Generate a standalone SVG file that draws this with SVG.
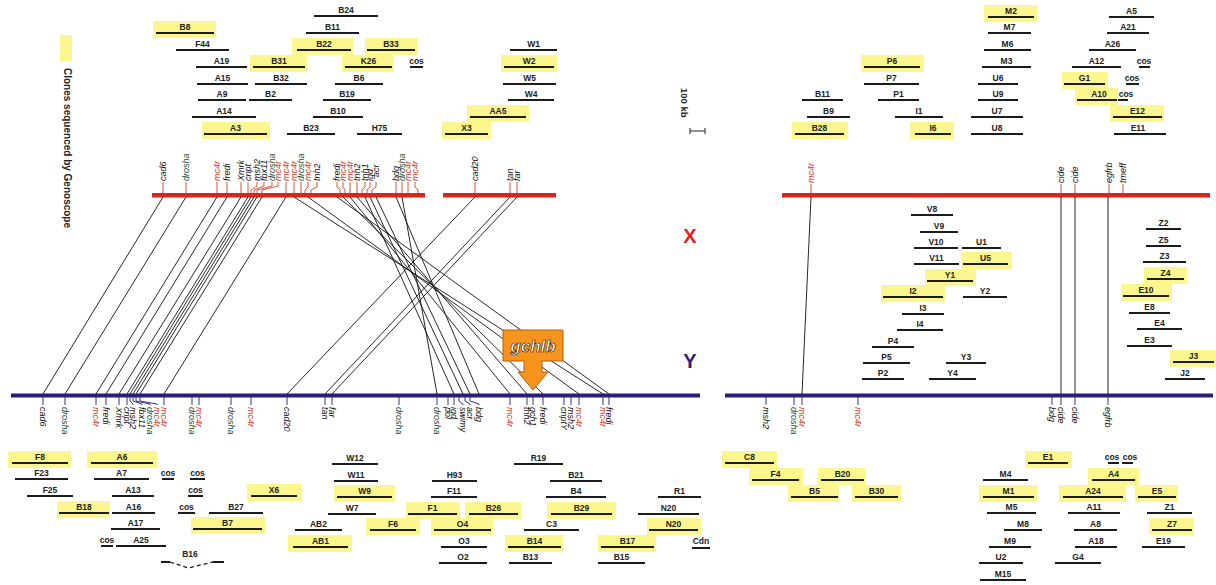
<svg xmlns="http://www.w3.org/2000/svg" width="1216" height="585" viewBox="0 0 1216 585">
<style>
.hl{fill:#fbf78e}
.cl{stroke:#1c1c1c;stroke-width:2}
.lb{font-family:"Liberation Sans",Arial,sans-serif;font-weight:bold;font-size:8.5px;fill:#222;text-anchor:middle}
.g{font-family:"Liberation Sans",Arial,sans-serif;font-style:italic;font-size:9px;fill:#111}
.r{fill:#d5391c}
.gn{fill:#1d4a30}
.tt{stroke:#d9553a;stroke-width:1;fill:none}
.bt{stroke:#34358a;stroke-width:1;fill:none}
.con{stroke:#111;stroke-width:0.9;fill:none}
</style>
<rect width="1216" height="585" fill="#fff"/>

<g id="legend">
<rect class="hl" x="60" y="35" width="12" height="26"/>
<text transform="translate(63.5,68) rotate(90)" style="font-family:'Liberation Sans',Arial,sans-serif;font-weight:bold;font-size:10px;fill:#222">Clones sequenced by Genoscope</text>
</g>

<g id="scalebar">
<text transform="translate(681,88) rotate(90)" style="font-family:'Liberation Sans',Arial,sans-serif;font-weight:bold;font-size:9.5px;fill:#222">100 kb</text>
<path d="M690,131 H705 M690,128 V134 M705,128 V134" stroke="#222" stroke-width="1" fill="none"/>
</g>

<g id="chromX">
<rect x="152" y="193" width="273" height="4.5" fill="#d9261c"/>
<rect x="443" y="193" width="113" height="4.5" fill="#d9261c"/>
<rect x="782" y="193" width="428" height="4.5" fill="#d9261c"/>
<text x="690" y="243" style="font-family:'Liberation Sans',Arial,sans-serif;font-weight:bold;font-size:20px;fill:#d9261c" text-anchor="middle">X</text>
</g>
<g id="chromY">
<rect x="11" y="393.5" width="689" height="4" fill="#2b1e7a"/>
<rect x="725" y="393.5" width="488" height="4" fill="#2b1e7a"/>
<text x="690" y="368" style="font-family:'Liberation Sans',Arial,sans-serif;font-weight:bold;font-size:20px;fill:#2b1e7a" text-anchor="middle">Y</text>
</g>

<g id="connectors">
<line class="con" x1="163" y1="197" x2="43" y2="394"/>
<line class="con" x1="186" y1="197" x2="65" y2="394"/>
<line class="con" x1="217" y1="197" x2="96" y2="394"/>
<line class="con" x1="227" y1="197" x2="106" y2="394"/>
<line class="con" x1="241" y1="197" x2="119" y2="394"/>
<line class="con" x1="248" y1="197" x2="127" y2="394"/>
<line class="con" x1="251" y1="197" x2="130" y2="394"/>
<line class="con" x1="254" y1="197" x2="133" y2="394"/>
<line class="con" x1="257" y1="197" x2="136" y2="394"/>
<line class="con" x1="262" y1="197" x2="140" y2="394"/>
<line class="con" x1="286" y1="197" x2="164" y2="394"/>
<line class="con" x1="294" y1="197" x2="603" y2="394"/>
<line class="con" x1="308" y1="197" x2="579" y2="394"/>
<line class="con" x1="337" y1="197" x2="609" y2="394"/>
<line class="con" x1="343" y1="197" x2="543" y2="394"/>
<line class="con" x1="350" y1="197" x2="510" y2="394"/>
<line class="con" x1="357" y1="197" x2="527" y2="394"/>
<line class="con" x1="365" y1="197" x2="454" y2="394"/>
<line class="con" x1="370" y1="197" x2="463" y2="394"/>
<line class="con" x1="376" y1="197" x2="470" y2="394"/>
<line class="con" x1="396" y1="197" x2="479" y2="394"/>
<line class="con" x1="402" y1="197" x2="437" y2="394"/>
<line class="con" x1="475" y1="197" x2="287" y2="394"/>
<line class="con" x1="510" y1="197" x2="325" y2="394"/>
<line class="con" x1="517" y1="197" x2="332" y2="394"/>
<line class="con" x1="811" y1="197" x2="802" y2="394"/>
<line class="con" x1="1061" y1="197" x2="1061" y2="394"/>
<line class="con" x1="1075" y1="197" x2="1075" y2="394"/>
<line class="con" x1="1108" y1="197" x2="1108" y2="394"/>
</g>

<g id="toplabels">
<path class="tt" d="M163,182V193 M186,182V193 M217,182V193 M227,182V193 M241,182V193 M248,182V193 M257,182V186L251,190V193 M264,182V186L254,190V193 M272,182V186L257,190V193 M278,182V186L262,190V193 M286,182V193 M294,182V193 M301,182V193 M308,182V187L305,190V193 M317,182V187L311,190V193 M337,182V187L340,190V193 M343,182V187L345,190V193 M350,182V193 M357,182V193 M365,182V187L362,190V193 M370,182V187L367,190V193 M376,182V187L372,190V193 M396,182V193 M402,182V193 M408,182V193 M415,182V187L418,190V193 M475,182V193 M510,182V193 M517,182V193 M811,184V193 M1061,184V193 M1075,184V193 M1109,184V193 M1123,184V193"/>
<text class="g" transform="translate(166,181) rotate(-90)">cad6</text>
<text class="g gn" transform="translate(189,181) rotate(-90)">drosha</text>
<text class="g r" transform="translate(220,181) rotate(-90)">mc4r</text>
<text class="g" transform="translate(230,181) rotate(-90)">fredi</text>
<text class="g" transform="translate(244,181) rotate(-90)">Xmrk</text>
<text class="g" transform="translate(251,181) rotate(-90)">cript</text>
<text class="g" transform="translate(260,181) rotate(-90)">msh2</text>
<text class="g" transform="translate(267,181) rotate(-90)">fbx11</text>
<text class="g gn" transform="translate(275,181) rotate(-90)">drosha</text>
<text class="g r" transform="translate(281,181) rotate(-90)">mc4r</text>
<text class="g r" transform="translate(289,181) rotate(-90)">mc4r</text>
<text class="g r" transform="translate(297,181) rotate(-90)">mc4r</text>
<text class="g gn" transform="translate(304,181) rotate(-90)">drosha</text>
<text class="g r" transform="translate(311,181) rotate(-90)">mc4r</text>
<text class="g" transform="translate(320,181) rotate(-90)">tnh2</text>
<text class="g" transform="translate(340,181) rotate(-90)">fredi</text>
<text class="g r" transform="translate(346,181) rotate(-90)">mc4r</text>
<text class="g r" transform="translate(353,181) rotate(-90)">mc4r</text>
<text class="g" transform="translate(360,181) rotate(-90)">tnh2</text>
<text class="g" transform="translate(368,181) rotate(-90)">tnh1</text>
<text class="g" transform="translate(373,181) rotate(-90)">igd</text>
<text class="g" transform="translate(379,177) rotate(-90)">acr</text>
<text class="g" transform="translate(399,181) rotate(-90)">bdg</text>
<text class="g gn" transform="translate(405,181) rotate(-90)">drosha</text>
<text class="g r" transform="translate(411,181) rotate(-90)">mc4r</text>
<text class="g r" transform="translate(418,181) rotate(-90)">mc4r</text>
<text class="g" transform="translate(478,181) rotate(-90)">cad20</text>
<text class="g" transform="translate(513,181) rotate(-90)">tan</text>
<text class="g" transform="translate(520,181) rotate(-90)">far</text>
<text class="g r" transform="translate(814,183) rotate(-90)">mc4r</text>
<text class="g" transform="translate(1064,183) rotate(-90)">cide</text>
<text class="g" transform="translate(1078,183) rotate(-90)">cide</text>
<text class="g" transform="translate(1112,183) rotate(-90)">egfrb</text>
<text class="g" transform="translate(1126,183) rotate(-90)">tmeff</text>
</g>

<g id="bottomlabels">
<path class="bt" d="M43,397V405 M65,397V405 M96,397V405 M106,397V405 M119,397V405 M127,397V405 M130,397V401L133,404V405 M133,397V401L142,404V405 M136,397V401L150,404V405 M140,397V401L157,404V405 M164,397V405 M192,397V405 M199,397V405 M231,397V405 M251,397V405 M287,397V405 M325,397V405 M332,397V405 M399,397V405 M437,397V405 M448,397V405 M454,397V405 M459,397V401L463,404V405 M465,397V401L470,404V405 M470,397V401L479,404V405 M510,397V405 M527,397V405 M533,397V405 M543,397V405 M564,397V405 M571,397V405 M579,397V405 M603,397V405 M609,397V405 M766,397V405 M794,397V405 M802,397V405 M858,397V405 M1052,397V405 M1061,397V405 M1075,397V405 M1108,397V405"/>
<text class="g" transform="translate(40,407) rotate(90)">cad6</text>
<text class="g gn" transform="translate(62,407) rotate(90)">drosha</text>
<text class="g r" transform="translate(93,407) rotate(90)">mc4r</text>
<text class="g" transform="translate(103,407) rotate(90)">fredi</text>
<text class="g" transform="translate(116,407) rotate(90)">Xmrk</text>
<text class="g" transform="translate(124,407) rotate(90)">cript</text>
<text class="g" transform="translate(130,407) rotate(90)">msh2</text>
<text class="g" transform="translate(139,407) rotate(90)">fbx11</text>
<text class="g gn" transform="translate(147,407) rotate(90)">drosha</text>
<text class="g r" transform="translate(154,407) rotate(90)">mc4r</text>
<text class="g r" transform="translate(161,407) rotate(90)">mc4r</text>
<text class="g gn" transform="translate(189,407) rotate(90)">drosha</text>
<text class="g r" transform="translate(196,407) rotate(90)">mc4r</text>
<text class="g gn" transform="translate(228,407) rotate(90)">drosha</text>
<text class="g r" transform="translate(248,407) rotate(90)">mc4r</text>
<text class="g" transform="translate(284,407) rotate(90)">cad20</text>
<text class="g" transform="translate(322,407) rotate(90)">tan</text>
<text class="g" transform="translate(329,407) rotate(90)">far</text>
<text class="g gn" transform="translate(396,407) rotate(90)">drosha</text>
<text class="g gn" transform="translate(434,407) rotate(90)">drosha</text>
<text class="g" transform="translate(445,407) rotate(90)">pol</text>
<text class="g" transform="translate(451,407) rotate(90)">igd</text>
<text class="g" transform="translate(460,407) rotate(90)">swimy</text>
<text class="g" transform="translate(467,407) rotate(90)">acr</text>
<text class="g" transform="translate(476,407) rotate(90)">bdg</text>
<text class="g r" transform="translate(507,407) rotate(90)">mc4r</text>
<text class="g" transform="translate(524,407) rotate(90)">tnh2</text>
<text class="g" transform="translate(530,407) rotate(90)">gch1</text>
<text class="g" transform="translate(540,407) rotate(90)">fredi</text>
<text class="g" transform="translate(561,407) rotate(90)">criptY</text>
<text class="g" transform="translate(568,407) rotate(90)">msh2</text>
<text class="g r" transform="translate(576,407) rotate(90)">mc4r</text>
<text class="g r" transform="translate(600,407) rotate(90)">mc4r</text>
<text class="g" transform="translate(606,407) rotate(90)">fredi</text>
<text class="g" transform="translate(763,407) rotate(90)">msh2</text>
<text class="g gn" transform="translate(791,407) rotate(90)">drosha</text>
<text class="g r" transform="translate(799,407) rotate(90)">mc4r</text>
<text class="g r" transform="translate(855,407) rotate(90)">mc4r</text>
<text class="g" transform="translate(1049,407) rotate(90)">bdg</text>
<text class="g" transform="translate(1058,407) rotate(90)">cide</text>
<text class="g" transform="translate(1072,407) rotate(90)">cide</text>
<text class="g" transform="translate(1105,407) rotate(90)">egfrb</text>
</g>

<g id="gchlb">
<path d="M503,330 H563 V361 H542 V372 H548 L533,390 L518,372 H524 V361 H503 Z" fill="#f7941d" stroke="#b35c10" stroke-width="1"/>
<text x="533" y="352" text-anchor="middle" style="font-family:'Liberation Sans',Arial,sans-serif;font-weight:bold;font-style:italic;font-size:17px;fill:#fff;stroke:#3a1a00;stroke-width:0.7">gchlb</text>
</g>

<!-- top-left clones -->
<g id="c-B8"><rect class="hl" x="153" y="21" width="63" height="17"/><line class="cl" x1="156" y1="33" x2="214" y2="33"/><text class="lb" x="185" y="29.5">B8</text></g>
<g id="c-F44"><line class="cl" x1="176" y1="50" x2="229" y2="50"/><text class="lb" x="202.5" y="46.5">F44</text></g>
<g id="c-A19"><line class="cl" x1="196" y1="67" x2="247" y2="67"/><text class="lb" x="221.5" y="63.5">A19</text></g>
<g id="c-B31"><rect class="hl" x="250" y="55" width="57" height="17"/><line class="cl" x1="253" y1="67" x2="305" y2="67"/><text class="lb" x="279" y="63.5">B31</text></g>
<g id="c-A15"><line class="cl" x1="197" y1="84" x2="248" y2="84"/><text class="lb" x="222.5" y="80.5">A15</text></g>
<g id="c-B32"><line class="cl" x1="255" y1="84" x2="307" y2="84"/><text class="lb" x="281" y="80.5">B32</text></g>
<g id="c-A9"><line class="cl" x1="198" y1="100" x2="246" y2="100"/><text class="lb" x="222" y="96.5">A9</text></g>
<g id="c-B2"><line class="cl" x1="249" y1="100" x2="292" y2="100"/><text class="lb" x="270.5" y="96.5">B2</text></g>
<g id="c-A14"><line class="cl" x1="192" y1="117" x2="256" y2="117"/><text class="lb" x="224" y="113.5">A14</text></g>
<g id="c-A3"><rect class="hl" x="202" y="122" width="68" height="17"/><line class="cl" x1="204" y1="134" x2="267" y2="134"/><text class="lb" x="235.5" y="130.5">A3</text></g>
<g id="c-B23"><line class="cl" x1="287" y1="134" x2="335" y2="134"/><text class="lb" x="311" y="130.5">B23</text></g>
<g id="c-B24"><line class="cl" x1="314" y1="16" x2="378" y2="16"/><text class="lb" x="346" y="12.5">B24</text></g>
<g id="c-B11a"><line class="cl" x1="306" y1="33" x2="359" y2="33"/><text class="lb" x="332.5" y="29.5">B11</text></g>
<g id="c-B22"><rect class="hl" x="292" y="38" width="61" height="17"/><line class="cl" x1="297" y1="50" x2="351" y2="50"/><text class="lb" x="324" y="46.5">B22</text></g>
<g id="c-B33"><rect class="hl" x="365" y="38" width="53" height="17"/><line class="cl" x1="367" y1="50" x2="415" y2="50"/><text class="lb" x="391" y="46.5">B33</text></g>
<g id="c-K26"><rect class="hl" x="342" y="55" width="52" height="17"/><line class="cl" x1="345" y1="67" x2="392" y2="67"/><text class="lb" x="368.5" y="63.5">K26</text></g>
<g id="c-cos1"><line class="cl" x1="410" y1="67" x2="423" y2="67"/><text class="lb" x="416.5" y="63.5">cos</text></g>
<g id="c-B6"><line class="cl" x1="335" y1="84" x2="383" y2="84"/><text class="lb" x="359" y="80.5">B6</text></g>
<g id="c-B19"><line class="cl" x1="323" y1="100" x2="371" y2="100"/><text class="lb" x="347" y="96.5">B19</text></g>
<g id="c-B10"><line class="cl" x1="313" y1="117" x2="363" y2="117"/><text class="lb" x="338" y="113.5">B10</text></g>
<g id="c-H75"><line class="cl" x1="357" y1="134" x2="402" y2="134"/><text class="lb" x="379.5" y="130.5">H75</text></g>
<g id="c-W1"><line class="cl" x1="510" y1="50" x2="557" y2="50"/><text class="lb" x="533.5" y="46.5">W1</text></g>
<g id="c-W2"><rect class="hl" x="501" y="55" width="56" height="17"/><line class="cl" x1="504" y1="67" x2="554" y2="67"/><text class="lb" x="529" y="63.5">W2</text></g>
<g id="c-W5"><line class="cl" x1="503" y1="84" x2="556" y2="84"/><text class="lb" x="529.5" y="80.5">W5</text></g>
<g id="c-W4"><line class="cl" x1="508" y1="100" x2="554" y2="100"/><text class="lb" x="531" y="96.5">W4</text></g>
<g id="c-AA5"><rect class="hl" x="467" y="105" width="62" height="17"/><line class="cl" x1="470" y1="117" x2="526" y2="117"/><text class="lb" x="498" y="113.5">AA5</text></g>
<g id="c-X3"><rect class="hl" x="442" y="122" width="49" height="17"/><line class="cl" x1="445" y1="134" x2="488" y2="134"/><text class="lb" x="466.5" y="130.5">X3</text></g>

<!-- top-right clones -->
<g id="c-M2"><rect class="hl" x="984" y="5" width="53" height="17"/><line class="cl" x1="988" y1="17" x2="1034" y2="17"/><text class="lb" x="1011" y="13.5">M2</text></g>
<g id="c-M7"><line class="cl" x1="988" y1="33" x2="1031" y2="33"/><text class="lb" x="1009.5" y="29.5">M7</text></g>
<g id="c-M6"><line class="cl" x1="984" y1="50" x2="1031" y2="50"/><text class="lb" x="1007.5" y="46.5">M6</text></g>
<g id="c-M3"><line class="cl" x1="982" y1="67" x2="1031" y2="67"/><text class="lb" x="1006.5" y="63.5">M3</text></g>
<g id="c-U6"><line class="cl" x1="978" y1="84" x2="1018" y2="84"/><text class="lb" x="998" y="80.5">U6</text></g>
<g id="c-U9"><line class="cl" x1="978" y1="100" x2="1018" y2="100"/><text class="lb" x="998" y="96.5">U9</text></g>
<g id="c-U7"><line class="cl" x1="971" y1="117" x2="1023" y2="117"/><text class="lb" x="997" y="113.5">U7</text></g>
<g id="c-U8"><line class="cl" x1="971" y1="134" x2="1023" y2="134"/><text class="lb" x="997" y="130.5">U8</text></g>
<g id="c-A5"><line class="cl" x1="1109" y1="17" x2="1154" y2="17"/><text class="lb" x="1131.5" y="13.5">A5</text></g>
<g id="c-A21"><line class="cl" x1="1107" y1="33" x2="1149" y2="33"/><text class="lb" x="1128" y="29.5">A21</text></g>
<g id="c-A26"><line class="cl" x1="1089" y1="50" x2="1136" y2="50"/><text class="lb" x="1112.5" y="46.5">A26</text></g>
<g id="c-A12"><line class="cl" x1="1072" y1="67" x2="1121" y2="67"/><text class="lb" x="1096.5" y="63.5">A12</text></g>
<g id="c-cos2"><line class="cl" x1="1139" y1="67" x2="1150" y2="67"/><text class="lb" x="1144" y="63.5">cos</text></g>
<g id="c-G1"><rect class="hl" x="1062" y="72" width="46" height="17"/><line class="cl" x1="1064" y1="84" x2="1105" y2="84"/><text class="lb" x="1084.5" y="80.5">G1</text></g>
<g id="c-cos3"><line class="cl" x1="1126" y1="84" x2="1139" y2="84"/><text class="lb" x="1132" y="80.5">cos</text></g>
<g id="c-A10"><rect class="hl" x="1075" y="88" width="43" height="17"/><line class="cl" x1="1077" y1="100" x2="1117" y2="100"/><text class="lb" x="1099" y="96.5">A10</text></g>
<g id="c-cos4"><line class="cl" x1="1118" y1="100" x2="1128" y2="100"/><text class="lb" x="1126" y="96.5">cos</text></g>
<g id="c-E12"><rect class="hl" x="1110" y="105" width="54" height="17"/><line class="cl" x1="1113" y1="117" x2="1162" y2="117"/><text class="lb" x="1137.5" y="113.5">E12</text></g>
<g id="c-E11"><line class="cl" x1="1114" y1="134" x2="1166" y2="134"/><text class="lb" x="1138" y="130.5">E11</text></g>
<g id="c-P6"><rect class="hl" x="861" y="55" width="63" height="17"/><line class="cl" x1="864" y1="67" x2="920" y2="67"/><text class="lb" x="892" y="63.5">P6</text></g>
<g id="c-P7"><line class="cl" x1="864" y1="84" x2="919" y2="84"/><text class="lb" x="891.5" y="80.5">P7</text></g>
<g id="c-P1"><line class="cl" x1="878" y1="100" x2="919" y2="100"/><text class="lb" x="898.5" y="96.5">P1</text></g>
<g id="c-I1"><line class="cl" x1="895" y1="117" x2="943" y2="117"/><text class="lb" x="919" y="113.5">I1</text></g>
<g id="c-I6"><rect class="hl" x="910" y="122" width="44" height="17"/><line class="cl" x1="915" y1="134" x2="951" y2="134"/><text class="lb" x="933" y="130.5">I6</text></g>
<g id="c-B11b"><line class="cl" x1="802" y1="100" x2="843" y2="100"/><text class="lb" x="822.5" y="96.5">B11</text></g>
<g id="c-B9"><line class="cl" x1="807" y1="117" x2="850" y2="117"/><text class="lb" x="828.5" y="113.5">B9</text></g>
<g id="c-B28"><rect class="hl" x="792" y="122" width="56" height="17"/><line class="cl" x1="795" y1="134" x2="844" y2="134"/><text class="lb" x="819.5" y="130.5">B28</text></g>

<!-- middle-right clones -->
<g id="c-V8"><line class="cl" x1="911" y1="215" x2="953" y2="215"/><text class="lb" x="932" y="211.5">V8</text></g>
<g id="c-V9"><line class="cl" x1="920" y1="232" x2="958" y2="232"/><text class="lb" x="939" y="228.5">V9</text></g>
<g id="c-V10"><line class="cl" x1="914" y1="248" x2="958" y2="248"/><text class="lb" x="936" y="244.5">V10</text></g>
<g id="c-U1"><line class="cl" x1="962" y1="248" x2="1001" y2="248"/><text class="lb" x="981.5" y="244.5">U1</text></g>
<g id="c-V11"><line class="cl" x1="914" y1="264" x2="959" y2="264"/><text class="lb" x="936.5" y="260.5">V11</text></g>
<g id="c-U5"><rect class="hl" x="961" y="252" width="51" height="17"/><line class="cl" x1="963" y1="264" x2="1008" y2="264"/><text class="lb" x="985.5" y="260.5">U5</text></g>
<g id="c-Y1"><rect class="hl" x="925" y="269" width="51" height="17"/><line class="cl" x1="927" y1="281" x2="973" y2="281"/><text class="lb" x="950" y="277.5">Y1</text></g>
<g id="c-I2"><rect class="hl" x="881" y="285" width="64" height="17"/><line class="cl" x1="883" y1="297" x2="943" y2="297"/><text class="lb" x="913" y="293.5">I2</text></g>
<g id="c-Y2"><line class="cl" x1="963" y1="297" x2="1007" y2="297"/><text class="lb" x="985" y="293.5">Y2</text></g>
<g id="c-I3"><line class="cl" x1="902" y1="314" x2="944" y2="314"/><text class="lb" x="923" y="310.5">I3</text></g>
<g id="c-I4"><line class="cl" x1="897" y1="330" x2="943" y2="330"/><text class="lb" x="920" y="326.5">I4</text></g>
<g id="c-P4"><line class="cl" x1="872" y1="347" x2="914" y2="347"/><text class="lb" x="893" y="343.5">P4</text></g>
<g id="c-P5"><line class="cl" x1="863" y1="363" x2="910" y2="363"/><text class="lb" x="886.5" y="359.5">P5</text></g>
<g id="c-Y3"><line class="cl" x1="946" y1="363" x2="986" y2="363"/><text class="lb" x="966" y="359.5">Y3</text></g>
<g id="c-P2"><line class="cl" x1="862" y1="379" x2="904" y2="379"/><text class="lb" x="883" y="375.5">P2</text></g>
<g id="c-Y4"><line class="cl" x1="929" y1="379" x2="976" y2="379"/><text class="lb" x="952.5" y="375.5">Y4</text></g>
<g id="c-Z2"><line class="cl" x1="1146" y1="229" x2="1181" y2="229"/><text class="lb" x="1163.5" y="225.5">Z2</text></g>
<g id="c-Z5"><line class="cl" x1="1146" y1="246" x2="1181" y2="246"/><text class="lb" x="1163.5" y="242.5">Z5</text></g>
<g id="c-Z3"><line class="cl" x1="1143" y1="262" x2="1186" y2="262"/><text class="lb" x="1164.5" y="258.5">Z3</text></g>
<g id="c-Z4"><rect class="hl" x="1144" y="267" width="43" height="17"/><line class="cl" x1="1147" y1="279" x2="1184" y2="279"/><text class="lb" x="1165.5" y="275.5">Z4</text></g>
<g id="c-E10"><rect class="hl" x="1121" y="284" width="51" height="17"/><line class="cl" x1="1123" y1="296" x2="1169" y2="296"/><text class="lb" x="1146" y="292.5">E10</text></g>
<g id="c-E8"><line class="cl" x1="1129" y1="313" x2="1170" y2="313"/><text class="lb" x="1149.5" y="309.5">E8</text></g>
<g id="c-E4"><line class="cl" x1="1137" y1="329" x2="1182" y2="329"/><text class="lb" x="1159.5" y="325.5">E4</text></g>
<g id="c-E3"><line class="cl" x1="1127" y1="346" x2="1172" y2="346"/><text class="lb" x="1149.5" y="342.5">E3</text></g>
<g id="c-J3"><rect class="hl" x="1170" y="350" width="46" height="17"/><line class="cl" x1="1173" y1="362" x2="1214" y2="362"/><text class="lb" x="1193.5" y="358.5">J3</text></g>
<g id="c-J2"><line class="cl" x1="1165" y1="379" x2="1205" y2="379"/><text class="lb" x="1185" y="375.5">J2</text></g>

<!-- bottom-left clones -->
<g id="c-F8"><rect class="hl" x="8" y="451" width="63" height="17"/><line class="cl" x1="12" y1="463" x2="68" y2="463"/><text class="lb" x="40" y="459.5">F8</text></g>
<g id="c-A6"><rect class="hl" x="87" y="451" width="70" height="17"/><line class="cl" x1="91" y1="463" x2="153" y2="463"/><text class="lb" x="122" y="459.5">A6</text></g>
<g id="c-F23"><line class="cl" x1="15" y1="479" x2="68" y2="479"/><text class="lb" x="41.5" y="475.5">F23</text></g>
<g id="c-A7"><line class="cl" x1="94" y1="479" x2="149" y2="479"/><text class="lb" x="121.5" y="475.5">A7</text></g>
<g id="c-cos5"><line class="cl" x1="162" y1="479" x2="174" y2="479"/><text class="lb" x="168" y="475.5">cos</text></g>
<g id="c-cos6"><line class="cl" x1="190" y1="479" x2="205" y2="479"/><text class="lb" x="197.5" y="475.5">cos</text></g>
<g id="c-F25"><line class="cl" x1="27" y1="496" x2="73" y2="496"/><text class="lb" x="50" y="492.5">F25</text></g>
<g id="c-A13"><line class="cl" x1="112" y1="496" x2="154" y2="496"/><text class="lb" x="133" y="492.5">A13</text></g>
<g id="c-cos7"><line class="cl" x1="188" y1="496" x2="203" y2="496"/><text class="lb" x="195.5" y="492.5">cos</text></g>
<g id="c-X6"><rect class="hl" x="247" y="484" width="55" height="17"/><line class="cl" x1="251" y1="496" x2="297" y2="496"/><text class="lb" x="274" y="492.5">X6</text></g>
<g id="c-B18"><rect class="hl" x="57" y="501" width="53" height="17"/><line class="cl" x1="59" y1="513" x2="109" y2="513"/><text class="lb" x="84" y="509.5">B18</text></g>
<g id="c-A16"><line class="cl" x1="112" y1="513" x2="155" y2="513"/><text class="lb" x="133.5" y="509.5">A16</text></g>
<g id="c-cos8"><line class="cl" x1="178" y1="513" x2="195" y2="513"/><text class="lb" x="186.5" y="509.5">cos</text></g>
<g id="c-B27"><line class="cl" x1="209" y1="513" x2="263" y2="513"/><text class="lb" x="236" y="509.5">B27</text></g>
<g id="c-A17"><line class="cl" x1="111" y1="529" x2="160" y2="529"/><text class="lb" x="135.5" y="525.5">A17</text></g>
<g id="c-B7"><rect class="hl" x="191" y="517" width="74" height="17"/><line class="cl" x1="193" y1="529" x2="262" y2="529"/><text class="lb" x="227.5" y="525.5">B7</text></g>
<g id="c-cos9"><line class="cl" x1="101" y1="546" x2="113" y2="546"/><text class="lb" x="107" y="542.5">cos</text></g>
<g id="c-A25"><line class="cl" x1="116" y1="546" x2="166" y2="546"/><text class="lb" x="141" y="542.5">A25</text></g>
<g id="c-B16"><path d="M170,562 L188,568 L213,562" stroke="#1c1c1c" stroke-width="1.3" fill="none" stroke-dasharray="4 3"/><line class="cl" x1="161" y1="562" x2="170" y2="562"/><line class="cl" x1="213" y1="562" x2="224" y2="562"/><text class="lb" x="190" y="557">B16</text></g>

<!-- bottom-middle clones -->
<g id="c-W12"><line class="cl" x1="332" y1="464" x2="378" y2="464"/><text class="lb" x="355" y="460.5">W12</text></g>
<g id="c-W11"><line class="cl" x1="334" y1="481" x2="378" y2="481"/><text class="lb" x="356" y="477.5">W11</text></g>
<g id="c-W9"><rect class="hl" x="334" y="485" width="61" height="17"/><line class="cl" x1="337" y1="497" x2="392" y2="497"/><text class="lb" x="364.5" y="493.5">W9</text></g>
<g id="c-W7"><line class="cl" x1="328" y1="514" x2="376" y2="514"/><text class="lb" x="352" y="510.5">W7</text></g>
<g id="c-AB2"><line class="cl" x1="295" y1="530" x2="342" y2="530"/><text class="lb" x="318.5" y="526.5">AB2</text></g>
<g id="c-AB1"><rect class="hl" x="288" y="535" width="64" height="17"/><line class="cl" x1="293" y1="547" x2="348" y2="547"/><text class="lb" x="320.5" y="543.5">AB1</text></g>
<g id="c-F6"><rect class="hl" x="366" y="518" width="54" height="17"/><line class="cl" x1="370" y1="530" x2="416" y2="530"/><text class="lb" x="393" y="526.5">F6</text></g>
<g id="c-H93"><line class="cl" x1="432" y1="481" x2="477" y2="481"/><text class="lb" x="454.5" y="477.5">H93</text></g>
<g id="c-F11"><line class="cl" x1="431" y1="497" x2="477" y2="497"/><text class="lb" x="454" y="493.5">F11</text></g>
<g id="c-F1"><rect class="hl" x="406" y="502" width="54" height="17"/><line class="cl" x1="408" y1="514" x2="457" y2="514"/><text class="lb" x="432.5" y="510.5">F1</text></g>
<g id="c-B26"><rect class="hl" x="465" y="502" width="56" height="17"/><line class="cl" x1="469" y1="514" x2="518" y2="514"/><text class="lb" x="493.5" y="510.5">B26</text></g>
<g id="c-O4"><rect class="hl" x="431" y="518" width="62" height="17"/><line class="cl" x1="434" y1="530" x2="491" y2="530"/><text class="lb" x="462.5" y="526.5">O4</text></g>
<g id="c-O3"><line class="cl" x1="441" y1="547" x2="487" y2="547"/><text class="lb" x="464" y="543.5">O3</text></g>
<g id="c-O2"><line class="cl" x1="439" y1="563" x2="487" y2="563"/><text class="lb" x="463" y="559.5">O2</text></g>
<g id="c-R19"><line class="cl" x1="514" y1="464" x2="563" y2="464"/><text class="lb" x="538.5" y="460.5">R19</text></g>
<g id="c-B21"><line class="cl" x1="550" y1="481" x2="602" y2="481"/><text class="lb" x="576" y="477.5">B21</text></g>
<g id="c-B4"><line class="cl" x1="546" y1="497" x2="606" y2="497"/><text class="lb" x="576" y="493.5">B4</text></g>
<g id="c-B29"><rect class="hl" x="547" y="502" width="69" height="17"/><line class="cl" x1="551" y1="514" x2="612" y2="514"/><text class="lb" x="581.5" y="510.5">B29</text></g>
<g id="c-C3"><line class="cl" x1="524" y1="530" x2="579" y2="530"/><text class="lb" x="551.5" y="526.5">C3</text></g>
<g id="c-B14"><rect class="hl" x="505" y="535" width="58" height="17"/><line class="cl" x1="508" y1="547" x2="561" y2="547"/><text class="lb" x="534.5" y="543.5">B14</text></g>
<g id="c-B13"><line class="cl" x1="509" y1="563" x2="552" y2="563"/><text class="lb" x="530.5" y="559.5">B13</text></g>
<g id="c-R1"><line class="cl" x1="658" y1="497" x2="701" y2="497"/><text class="lb" x="679.5" y="493.5">R1</text></g>
<g id="c-N20a"><line class="cl" x1="638" y1="514" x2="699" y2="514"/><text class="lb" x="668.5" y="510.5">N20</text></g>
<g id="c-N20b"><rect class="hl" x="647" y="518" width="54" height="17"/><line class="cl" x1="649" y1="530" x2="698" y2="530"/><text class="lb" x="673.5" y="526.5">N20</text></g>
<g id="c-B17"><rect class="hl" x="598" y="535" width="58" height="17"/><line class="cl" x1="601" y1="547" x2="654" y2="547"/><text class="lb" x="627.5" y="543.5">B17</text></g>
<g id="c-B15"><line class="cl" x1="598" y1="563" x2="645" y2="563"/><text class="lb" x="621.5" y="559.5">B15</text></g>
<g id="c-Cdn"><line class="cl" x1="692" y1="548" x2="710" y2="548"/><text class="lb" x="701" y="543.5">Cdn</text></g>

<!-- bottom-right clones -->
<g id="c-C8"><rect class="hl" x="722" y="451" width="55" height="17"/><line class="cl" x1="725" y1="463" x2="774" y2="463"/><text class="lb" x="749.5" y="459.5">C8</text></g>
<g id="c-F4"><rect class="hl" x="749" y="468" width="54" height="17"/><line class="cl" x1="752" y1="480" x2="799" y2="480"/><text class="lb" x="775.5" y="476.5">F4</text></g>
<g id="c-B20"><rect class="hl" x="818" y="468" width="48" height="17"/><line class="cl" x1="821" y1="480" x2="864" y2="480"/><text class="lb" x="842.5" y="476.5">B20</text></g>
<g id="c-B5"><rect class="hl" x="788" y="485" width="51" height="17"/><line class="cl" x1="791" y1="497" x2="838" y2="497"/><text class="lb" x="814.5" y="493.5">B5</text></g>
<g id="c-B30"><rect class="hl" x="852" y="485" width="49" height="17"/><line class="cl" x1="855" y1="497" x2="898" y2="497"/><text class="lb" x="876.5" y="493.5">B30</text></g>
<g id="c-E1"><rect class="hl" x="1025" y="451" width="47" height="17"/><line class="cl" x1="1028" y1="463" x2="1068" y2="463"/><text class="lb" x="1048" y="459.5">E1</text></g>
<g id="c-cos10"><line class="cl" x1="1108" y1="463" x2="1119" y2="463"/><text class="lb" x="1112" y="459.5">cos</text></g>
<g id="c-cos11"><line class="cl" x1="1122" y1="463" x2="1133" y2="463"/><text class="lb" x="1130" y="459.5">cos</text></g>
<g id="c-A4"><rect class="hl" x="1088" y="468" width="51" height="17"/><line class="cl" x1="1092" y1="480" x2="1135" y2="480"/><text class="lb" x="1113.5" y="476.5">A4</text></g>
<g id="c-M4"><line class="cl" x1="983" y1="480" x2="1028" y2="480"/><text class="lb" x="1005.5" y="476.5">M4</text></g>
<g id="c-M1"><rect class="hl" x="979" y="485" width="58" height="17"/><line class="cl" x1="983" y1="497" x2="1034" y2="497"/><text class="lb" x="1008.5" y="493.5">M1</text></g>
<g id="c-A24"><rect class="hl" x="1059" y="485" width="67" height="17"/><line class="cl" x1="1063" y1="497" x2="1123" y2="497"/><text class="lb" x="1093" y="493.5">A24</text></g>
<g id="c-E5"><rect class="hl" x="1135" y="485" width="43" height="17"/><line class="cl" x1="1138" y1="497" x2="1176" y2="497"/><text class="lb" x="1157" y="493.5">E5</text></g>
<g id="c-M5"><line class="cl" x1="987" y1="513" x2="1036" y2="513"/><text class="lb" x="1011.5" y="509.5">M5</text></g>
<g id="c-A11"><line class="cl" x1="1068" y1="513" x2="1120" y2="513"/><text class="lb" x="1094" y="509.5">A11</text></g>
<g id="c-Z1"><line class="cl" x1="1147" y1="513" x2="1192" y2="513"/><text class="lb" x="1169.5" y="509.5">Z1</text></g>
<g id="c-M8"><line class="cl" x1="1004" y1="530" x2="1042" y2="530"/><text class="lb" x="1023" y="526.5">M8</text></g>
<g id="c-A8"><line class="cl" x1="1074" y1="530" x2="1117" y2="530"/><text class="lb" x="1095.5" y="526.5">A8</text></g>
<g id="c-Z7"><rect class="hl" x="1149" y="518" width="45" height="17"/><line class="cl" x1="1152" y1="530" x2="1192" y2="530"/><text class="lb" x="1172" y="526.5">Z7</text></g>
<g id="c-M9"><line class="cl" x1="989" y1="547" x2="1031" y2="547"/><text class="lb" x="1010" y="543.5">M9</text></g>
<g id="c-A18"><line class="cl" x1="1075" y1="547" x2="1117" y2="547"/><text class="lb" x="1096" y="543.5">A18</text></g>
<g id="c-E19"><line class="cl" x1="1142" y1="547" x2="1185" y2="547"/><text class="lb" x="1163.5" y="543.5">E19</text></g>
<g id="c-U2"><line class="cl" x1="979" y1="563" x2="1023" y2="563"/><text class="lb" x="1001" y="559.5">U2</text></g>
<g id="c-G4"><line class="cl" x1="1055" y1="563" x2="1101" y2="563"/><text class="lb" x="1078" y="559.5">G4</text></g>
<g id="c-M15"><line class="cl" x1="980" y1="580" x2="1026" y2="580"/><text class="lb" x="1003" y="576.5">M15</text></g>
</svg>
